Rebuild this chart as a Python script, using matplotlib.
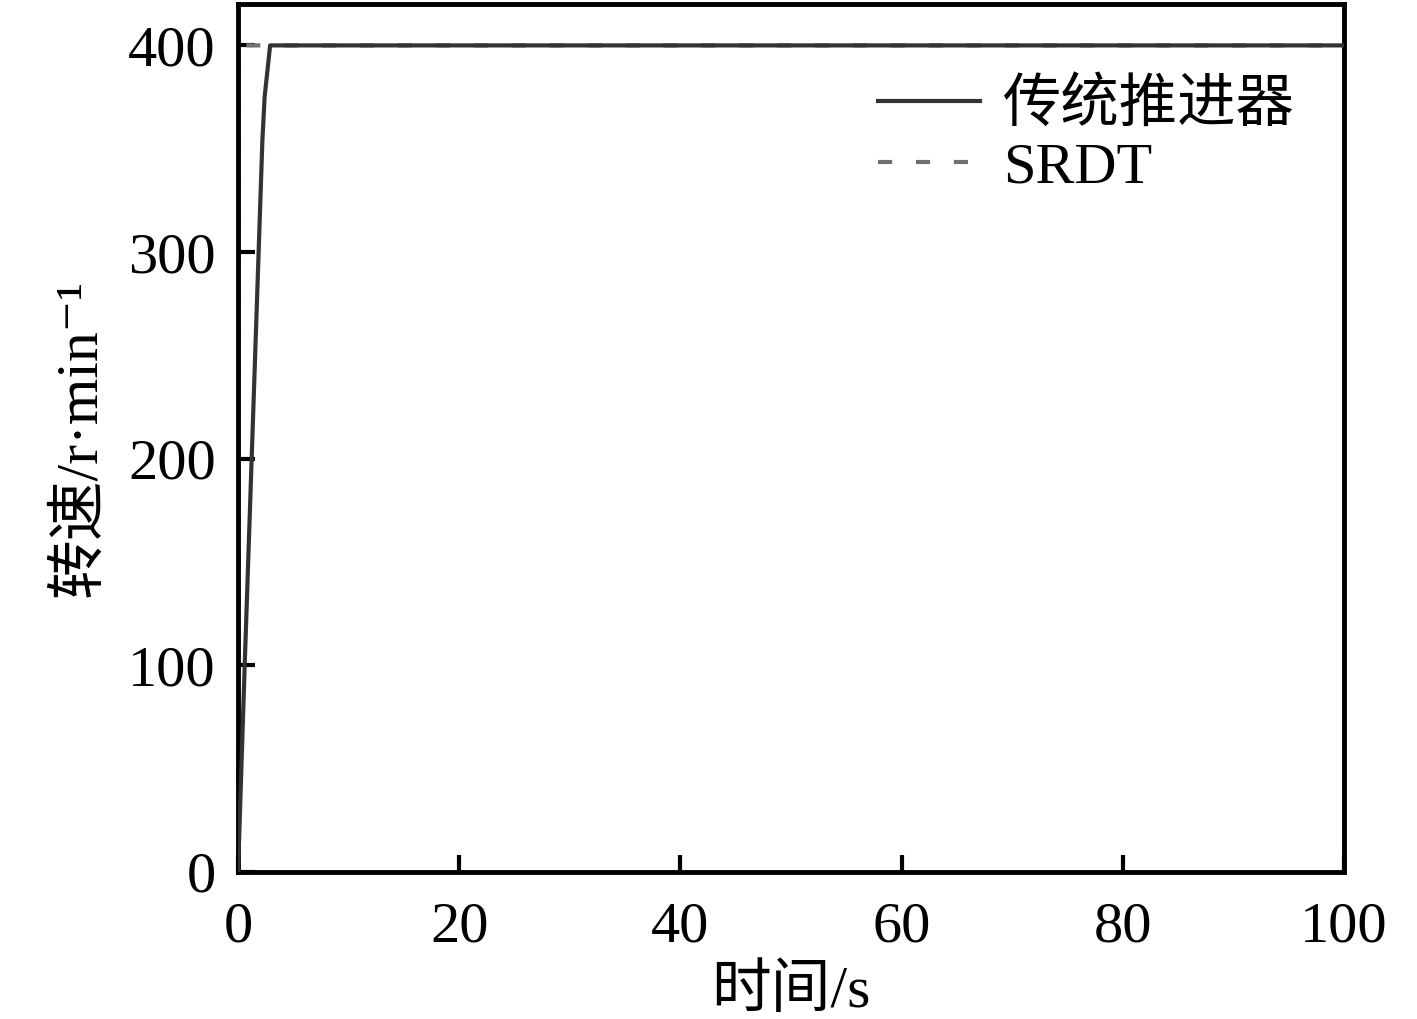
import matplotlib
matplotlib.use("Agg")
import matplotlib.pyplot as plt

plt.rcParams['font.family'] = ['Liberation Serif', 'Noto Sans CJK SC', 'DejaVu Sans']

t_conv = [0, 0.6, 2.2, 2.4, 2.9, 100]
n_conv = [0, 100, 354, 375, 400, 400]
t_srdt = [0, 0.05, 100]
n_srdt = [0, 400, 400]
xticks = [0, 20, 40, 60, 80, 100]
yticks = [0, 100, 200, 300, 400]

fig = plt.figure(figsize=(14.17, 10.19), dpi=100)
ax = fig.add_axes([0.168, 0.1443, 0.7805, 0.8517])
ax.plot(t_conv, n_conv, color='#333333', lw=3, label='传统推进器', zorder=3)
ax.plot(t_srdt, n_srdt, color='#707070', lw=3, ls=(0, (3.4, 5.7)), label='SRDT', zorder=2)
ax.set_xlim(0, 100)
ax.set_ylim(0, 420)
ax.set_xticks(xticks)
ax.set_yticks(yticks)
ax.tick_params(direction='in', length=12, width=3, labelsize=42)
ax.tick_params(axis='x', pad=21)
ax.tick_params(axis='y', pad=16)
for s in ax.spines.values():
    s.set_linewidth(3.5)
ax.set_xlabel('时间/s', fontsize=43, labelpad=9)
ax.set_ylabel('转速/r·min⁻¹', fontsize=43, labelpad=14)
leg = ax.legend(loc='upper right', bbox_to_anchor=(1.003, 0.975), frameon=False, fontsize=42,
                handlelength=1.75, handletextpad=0.4, labelspacing=0.15)
fig.savefig('out.png', dpi=100)
